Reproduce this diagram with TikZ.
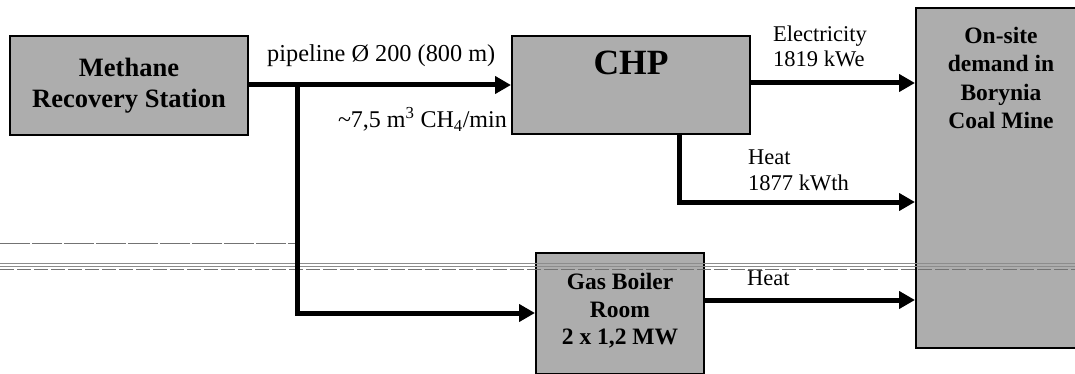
\documentclass[tikz,border=0pt]{standalone}
\usepackage{fontspec}
\setmainfont{Liberation Serif}
\usetikzlibrary{arrows.meta,calc}
\begin{document}
\begin{tikzpicture}[x=1pt,y=-1pt,
  box/.style={draw=black, line width=2pt, fill=black!32, inner sep=0pt, align=center},
  flow/.style={line width=5pt, -{Triangle[length=16pt,width=17pt]}},
  lbl/.style={font=\fontsize{22.5}{25.5}\selectfont, inner sep=0pt, align=left},
  scan/.style={line width=0.7pt, black!55},
]
\useasboundingbox (0,0) rectangle (1075,374);

% boxes
\node[box, minimum width=238pt, minimum height=99pt,
      font=\fontsize{26.5}{31}\selectfont\bfseries] (mrs) at (129,86)
      {Methane\\Recovery Station};
\node[box, minimum width=238pt, minimum height=98pt,
      font=\fontsize{35.5}{40}\selectfont\bfseries, text depth=45pt] (chp) at (631,85) {CHP};
\node[box, minimum width=168pt, minimum height=121pt,
      font=\fontsize{23.5}{27.5}\selectfont\bfseries, text depth=8pt] (gbr) at (620,313)
      {Gas Boiler\\Room\\2 x 1,2 MW};
\node[box, minimum width=170pt, minimum height=340pt,
      font=\fontsize{23.5}{28.5}\selectfont\bfseries, text depth=200pt] (mine) at (1001,178)
      {On-site\\demand in\\Borynia\\Coal Mine};

% faint scan lines
\draw[scan, dash pattern=on 30pt off 2pt, line width=0.5pt] (0,243) -- (297,243);
\draw[scan, black!45] (0,263) -- (1075,263);
\draw[scan, black!45, line width=0.5pt] (0,266) -- (1075,266);
\draw[scan, dash pattern=on 14pt off 3pt, line width=0.5pt] (0,269) -- (1075,269);

% connectors
\coordinate (j) at (297,85);
\draw[flow] (mrs.east |- j) -- (chp.west |- j);
\draw[flow] (j) |- (gbr.west);
\draw[flow] ($(chp.east)+(0,-2)$) -- ($(mine.west |- chp.east)+(0,-2)$);
\draw[flow] ($(chp.south)+(48,0)$) |- ($(mine.west)+(0,24)$);
\draw[flow] ($(gbr.east)+(0,-13)$) -- ($(mine.west |- gbr.east)+(0,-13)$);

% labels
\node[lbl, font=\fontsize{24.3}{28}\selectfont, anchor=base west] (lpipe) at (267,62) {pipeline Ø 200 (800 m)};
\node[lbl, font=\fontsize{24}{28}\selectfont, anchor=base east] (lflow) at (507,128) {\textasciitilde7,5 m\textsuperscript{3} CH\textsubscript{4}/min};
\node[lbl, anchor=base west] (lel) at (773,67) {Electricity\\1819 kWe};
\node[lbl, anchor=base west] (lheat) at (748,190) {Heat\\1877 kWth};
\node[lbl, anchor=base west] (lheat2) at (747,285) {Heat};
\end{tikzpicture}
\end{document}
